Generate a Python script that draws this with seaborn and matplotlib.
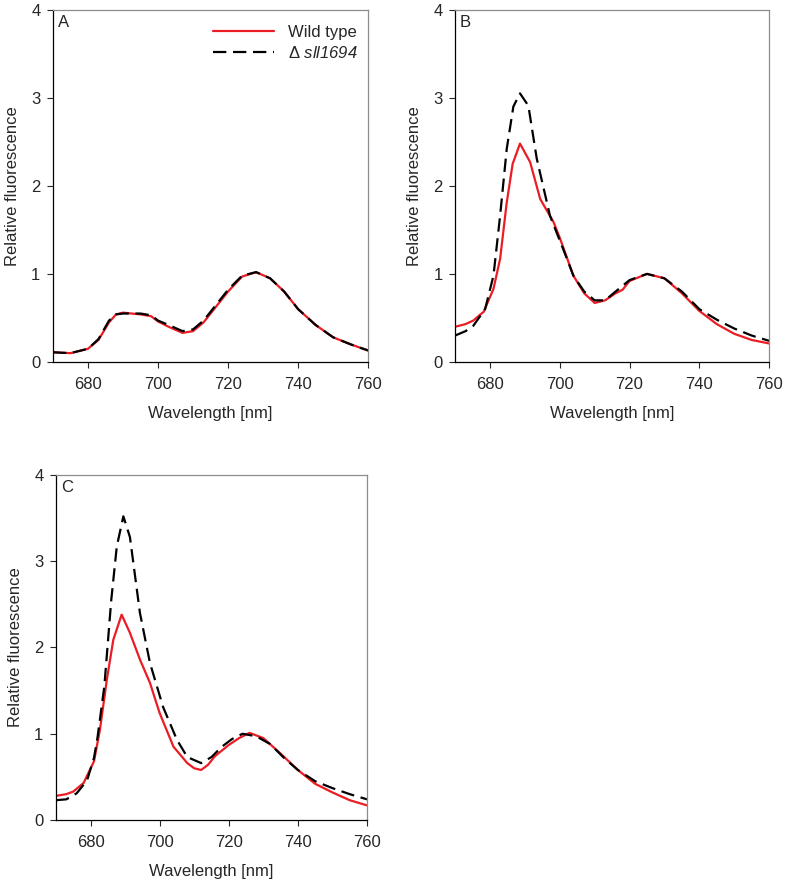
import numpy as np
import pandas as pd
import seaborn as sns
import matplotlib.pyplot as plt


#%% Data

# Panel A
WL_A   = [670, 675, 680, 683, 686, 688, 690, 695, 698, 700, 703, 707, 710, 713, 716, 720, 724, 728, 732, 736, 740, 745, 750, 755, 760]
WT_A   = [0.11, 0.10, 0.15, 0.25, 0.45, 0.54, 0.56, 0.54, 0.52, 0.46, 0.40, 0.33, 0.35, 0.45, 0.60, 0.80, 0.97, 1.02, 0.95, 0.80, 0.60, 0.42, 0.28, 0.20, 0.13]
MUT_A  = [0.11, 0.10, 0.15, 0.26, 0.47, 0.54, 0.55, 0.55, 0.53, 0.47, 0.42, 0.35, 0.37, 0.47, 0.62, 0.82, 0.98, 1.02, 0.95, 0.80, 0.60, 0.42, 0.28, 0.20, 0.13]

# Panel B
WL_B_WT  = [670, 673, 675.2, 678.2, 681, 682.9, 684.8, 686.5, 688.6, 691.5, 694.4, 698.2, 700.1, 703.9, 707, 710, 713, 716, 718, 720, 725, 730, 735, 740, 745, 750, 755, 760]
WT_B     = [0.40, 0.43, 0.47, 0.57, 0.83, 1.17, 1.81, 2.25, 2.48, 2.27, 1.85, 1.59, 1.40, 0.98, 0.78, 0.67, 0.70, 0.78, 0.82, 0.92, 1.00, 0.95, 0.78, 0.58, 0.43, 0.32, 0.25, 0.21]
WL_B_MUT = [670, 673, 675.2, 678.6, 681, 682.9, 684.8, 686.7, 688.6, 691, 693.4, 697.2, 701, 703.9, 707, 710, 713, 716, 720, 725, 730, 735, 740, 745, 750, 755, 760]
MUT_B    = [0.30, 0.35, 0.41, 0.60, 0.98, 1.66, 2.42, 2.90, 3.05, 2.91, 2.31, 1.66, 1.28, 0.98, 0.80, 0.70, 0.70, 0.80, 0.93, 1.00, 0.95, 0.80, 0.60, 0.48, 0.38, 0.30, 0.24]

# Panel C
WL_C_WT  = [670, 673, 675, 678, 681, 682.7, 684.7, 686.6, 689, 691.4, 694.3, 697.2, 700, 704, 708, 710, 712, 714, 716, 720, 723, 726, 730, 735, 740, 745, 750, 755, 760]
WT_C     = [0.28, 0.30, 0.33, 0.43, 0.68, 1.04, 1.62, 2.09, 2.38, 2.17, 1.86, 1.59, 1.24, 0.85, 0.66, 0.60, 0.58, 0.64, 0.74, 0.87, 0.95, 1.01, 0.95, 0.77, 0.58, 0.42, 0.32, 0.23, 0.17]
WL_C_MUT = [670, 673, 676, 679, 681, 682, 684, 686, 687.6, 689.5, 691.4, 694.3, 697.2, 701, 705, 708, 712, 715, 718, 721, 724, 728, 732, 736, 740, 745, 750, 755, 760]
MUT_C    = [0.23, 0.24, 0.31, 0.46, 0.72, 0.95, 1.55, 2.55, 3.17, 3.52, 3.28, 2.40, 1.82, 1.31, 0.93, 0.73, 0.66, 0.73, 0.85, 0.94, 1.00, 0.97, 0.88, 0.72, 0.58, 0.45, 0.37, 0.30, 0.24]

Panels = [
    ("A", WL_A, WT_A, WL_A, MUT_A),
    ("B", WL_B_WT, WT_B, WL_B_MUT, MUT_B),
    ("C", WL_C_WT, WT_C, WL_C_MUT, MUT_C),
]

Label_WT  = "Wild type"
Label_MUT = r"Δ $\mathrm{sll1694}$"   # mathtext rm is mapped to the italic face below


#%% Style

sns.set_style("white")
plt.rcParams['font.family'] = ['Liberation Sans', 'DejaVu Sans']
plt.rcParams['mathtext.fontset'] = 'custom'
plt.rcParams['mathtext.rm'] = 'Liberation Sans:italic'
plt.rcParams['mathtext.it'] = 'Liberation Sans:italic'

# X axis
XTicks  = [680, 700, 720, 740, 760]
XLim    = [670, 760]
XLabel  = "Wavelength [nm]"

# Y axis
YTicks  = [0, 1, 2, 3, 4]
YLim    = [0, 4]
YLabel  = "Relative fluorescence"

FontSize_TickLabel = 12
FontSize_AxisLabel = 12

Fig_Width  = 7.86
Fig_Height = 8.85

# [left, bottom, width, height] in figure fractions
Axis_Pos = [
    [0.0674, 0.591, 0.401, 0.398],
    [0.579, 0.591, 0.3995, 0.398],
    [0.0712, 0.0734, 0.3957, 0.390],
]

Color_WT  = "#ec1c24"
Color_MUT = "k"


Fig = plt.figure(figsize=[Fig_Width, Fig_Height], dpi=100)

for (Letter, WL_WT, WT, WL_MUT, MUT), Pos in zip(Panels, Axis_Pos):

    ax = Fig.add_axes(Pos)

    sns.lineplot(x=WL_WT, y=WT, color=Color_WT, linewidth=1.6, label=Label_WT, ax=ax)
    sns.lineplot(x=WL_MUT, y=MUT, color=Color_MUT, linewidth=1.6, label=Label_MUT, ax=ax)
    ax.lines[1].set_dashes([6, 3])

    ax.set_xlim(XLim)
    ax.set_xticks(XTicks)
    ax.set_ylim(YLim)
    ax.set_yticks(YTicks)
    ax.tick_params(labelsize=FontSize_TickLabel, direction="out", length=4, width=0.8,
                   bottom=True, left=True)
    ax.tick_params(axis="x", pad=7)
    ax.tick_params(axis="y", pad=5)

    ax.set_xlabel(XLabel, fontsize=FontSize_AxisLabel, labelpad=10)
    ax.set_ylabel(YLabel, fontsize=FontSize_AxisLabel, labelpad=8)

    ax.spines[['left', 'bottom']].set_color("k")
    ax.spines[['right', 'top']].set_color("#8c8c8c")
    ax.spines[['left', 'bottom', 'right', 'top']].set_linewidth(0.9)

    ax.text(0.015, 0.985, Letter, transform=ax.transAxes, ha="left", va="top",
            fontsize=FontSize_TickLabel)

    if Letter == "A":
        ax.legend(loc="upper right", bbox_to_anchor=(1.016, 1.0), frameon=False,
                  fontsize=FontSize_TickLabel, handlelength=3.7, handletextpad=0.85,
                  borderaxespad=0.5, labelspacing=0.3)
    else:
        ax.get_legend().remove()

plt.savefig("out.png", dpi=100)
